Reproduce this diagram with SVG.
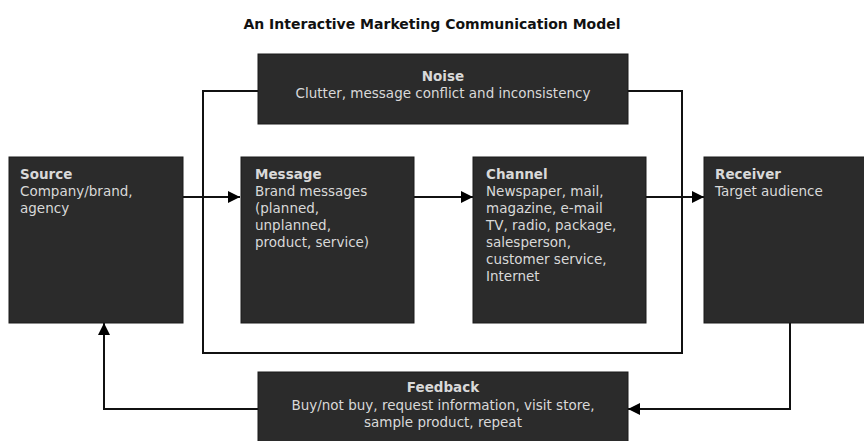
<svg xmlns="http://www.w3.org/2000/svg" width="864" height="441" viewBox="0 0 864 441">
  <defs>
    <marker id="arrow" viewBox="0 0 12 12" refX="12" refY="6" markerWidth="12" markerHeight="12" markerUnits="userSpaceOnUse" orient="auto">
      <path d="M0,0 L12,6 L0,12 Z" fill="#000"/>
    </marker>
    <style>
      .box { fill: #2b2b2b; stroke: #1a1a1a; stroke-width: 1; }
      .line { fill: none; stroke: #111; stroke-width: 2; }
      .txt { font-family: "DejaVu Sans", Verdana, sans-serif; font-size: 13.5px; fill: #d9d9d9; }
      .hd { font-weight: bold; }
      .mid { text-anchor: middle; }
      .title { font-family: "DejaVu Sans", Verdana, sans-serif; font-size: 14px; font-weight: bold; fill: #111; text-anchor: middle; }
    </style>
  </defs>
  <rect width="864" height="441" fill="#fff"/>

  <text class="title" x="432" y="29">An Interactive Marketing Communication Model</text>

  <!-- connectors -->
  <g id="connectors">
    <path class="line" d="M258,91 H203 V353 H682 V91 H628"/>
    <line class="line" x1="183" y1="197" x2="240" y2="197" marker-end="url(#arrow)"/>
    <line class="line" x1="414" y1="197" x2="473" y2="197" marker-end="url(#arrow)"/>
    <line class="line" x1="646" y1="197" x2="704" y2="197" marker-end="url(#arrow)"/>
    <path class="line" d="M790,323 V409 H628" marker-end="url(#arrow)"/>
    <path class="line" d="M258,409 H104 V323" marker-end="url(#arrow)"/>
  </g>

  <g id="noise">
    <rect class="box" x="258" y="54" width="370" height="70"/>
    <text class="txt hd mid" x="443" y="81">Noise</text>
    <text class="txt mid" x="443" y="98">Clutter, message conflict and inconsistency</text>
  </g>

  <g id="source">
    <rect class="box" x="9" y="157" width="174" height="166"/>
    <text class="txt" x="20" y="179"><tspan class="hd">Source</tspan><tspan x="20" dy="17">Company/brand,</tspan><tspan x="20" dy="17">agency</tspan></text>
  </g>

  <g id="message">
    <rect class="box" x="241" y="157" width="173" height="166"/>
    <text class="txt" x="255" y="179"><tspan class="hd">Message</tspan><tspan x="255" dy="17">Brand messages</tspan><tspan x="255" dy="17">(planned,</tspan><tspan x="255" dy="17">unplanned,</tspan><tspan x="255" dy="17">product, service)</tspan></text>
  </g>

  <g id="channel">
    <rect class="box" x="473" y="157" width="173" height="166"/>
    <text class="txt" x="486" y="179"><tspan class="hd">Channel</tspan><tspan x="486" dy="17">Newspaper, mail,</tspan><tspan x="486" dy="17">magazine, e-mail</tspan><tspan x="486" dy="17">TV, radio, package,</tspan><tspan x="486" dy="17">salesperson,</tspan><tspan x="486" dy="17">customer service,</tspan><tspan x="486" dy="17">Internet</tspan></text>
  </g>

  <g id="receiver">
    <rect class="box" x="704" y="157" width="170" height="166"/>
    <text class="txt" x="715" y="179"><tspan class="hd">Receiver</tspan><tspan x="715" dy="17">Target audience</tspan></text>
  </g>

  <g id="feedback">
    <rect class="box" x="258" y="372" width="370" height="80"/>
    <text class="txt hd mid" x="443" y="392">Feedback</text>
    <text class="txt mid" x="443" y="410">Buy/not buy, request information, visit store,</text>
    <text class="txt mid" x="443" y="427">sample product, repeat</text>
  </g>
</svg>
